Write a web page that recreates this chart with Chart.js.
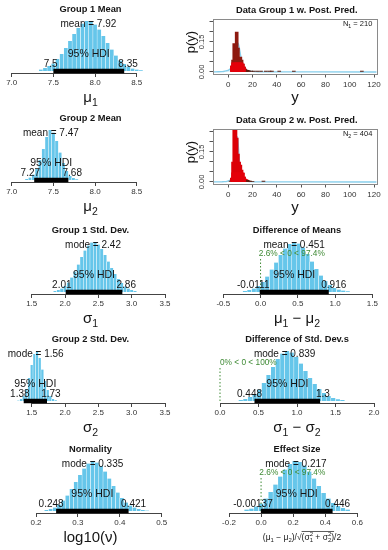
<!DOCTYPE html>
<html><head><meta charset="utf-8">
<script src="https://cdn.jsdelivr.net/npm/chart.js@4/dist/chart.umd.min.js"></script>
<style>
html,body{margin:0;padding:0;background:#fff;}
#wrap{position:relative;width:388px;height:550px;overflow:hidden;background:#fff;}
canvas{position:absolute;}
</style></head><body><div id="wrap"></div>
<script>
// ---------------- DATA ----------------
// Group 1 Mean
const mu1Bins = [7.35,7.40,7.45,7.50,7.55,7.60,7.65,7.70,7.75,7.80,7.85,7.90,7.95,8.00,8.05,8.10,8.15,8.20,8.25,8.30,8.35,8.40,8.45,8.50,8.55];
const mu1Dens = [0.03,0.06,0.10,0.15,0.24,0.34,0.46,0.60,0.74,0.86,0.95,1.00,0.99,0.93,0.83,0.70,0.56,0.43,0.31,0.21,0.14,0.09,0.05,0.03,0.015];
const mu1HDI = [7.5, 8.35];
const mu1Mean = 7.92;
const mu1Ticks = ['7.0','7.5','8.0','8.5'];
// Group 2 Mean
const mu2Bins = [7.18,7.22,7.26,7.30,7.34,7.38,7.42,7.46,7.50,7.54,7.58,7.62,7.66,7.70,7.74,7.78];
const mu2Dens = [0.02,0.05,0.11,0.22,0.40,0.62,0.86,1.00,0.95,0.78,0.55,0.34,0.18,0.08,0.04,0.015];
const mu2HDI = [7.27, 7.68];
const mu2Mean = 7.47;
const mu2Ticks = ['7.0','7.5','8.0','8.5'];
// Group 1 Std. Dev.
const sd1Bins = [1.85,1.90,1.95,2.00,2.05,2.10,2.15,2.20,2.25,2.30,2.35,2.40,2.45,2.50,2.55,2.60,2.65,2.70,2.75,2.80,2.85,2.90,2.95,3.00,3.05];
const sd1Dens = [0.02,0.04,0.07,0.12,0.19,0.29,0.41,0.55,0.70,0.83,0.93,0.99,1.00,0.95,0.86,0.74,0.61,0.48,0.36,0.26,0.18,0.11,0.07,0.04,0.02];
const sd1HDI = [2.01, 2.86];
const sd1Mode = 2.42;
const sd1Ticks = ['1.5','2.0','2.5','3.0','3.5'];
// Group 2 Std. Dev.
const sd2Bins = [1.30,1.34,1.38,1.42,1.46,1.50,1.54,1.58,1.62,1.66,1.70,1.74,1.78,1.82,1.86];
const sd2Dens = [0.01,0.04,0.10,0.24,0.46,0.72,0.94,1.00,0.86,0.63,0.40,0.22,0.10,0.04,0.015];
const sd2HDI = [1.38, 1.73];
const sd2Mode = 1.56;
const sd2Ticks = ['1.5','2.0','2.5','3.0','3.5'];
// Normality log10(nu)
const nuBins = [0.225,0.235,0.245,0.255,0.265,0.275,0.285,0.295,0.305,0.315,0.325,0.335,0.345,0.355,0.365,0.375,0.385,0.395,0.405,0.415,0.425,0.435,0.445,0.455,0.465];
const nuDens = [0.02,0.04,0.07,0.13,0.21,0.31,0.44,0.58,0.72,0.85,0.95,1.00,0.97,0.90,0.79,0.65,0.50,0.37,0.26,0.17,0.11,0.07,0.04,0.02,0.01];
const nuHDI = [0.248, 0.421];
const nuMode = 0.335;
const nuTicks = ['0.2','0.3','0.4','0.5'];
// Difference of Means
const dmBins = [-0.21,-0.15,-0.09,-0.03,0.03,0.09,0.15,0.21,0.27,0.33,0.39,0.45,0.51,0.57,0.63,0.69,0.75,0.81,0.87,0.93,0.99,1.05,1.11,1.17];
const dmDens = [0.02,0.04,0.07,0.12,0.20,0.31,0.45,0.59,0.74,0.87,0.96,1.00,0.97,0.89,0.76,0.61,0.46,0.33,0.22,0.14,0.08,0.05,0.03,0.015];
const dmHDI = [-0.0111, 0.916];
const dmMean = 0.451;
const dmComp = [2.6, 0, 97.4];
const dmTicks = ['-0.5','0.0','0.5','1.0','1.5'];
// Difference of Std. Dev.s
const dsBins = [0.27,0.33,0.39,0.45,0.51,0.57,0.63,0.69,0.75,0.81,0.87,0.93,0.99,1.05,1.11,1.17,1.23,1.29,1.35,1.41,1.47,1.53,1.59];
const dsDens = [0.02,0.04,0.08,0.14,0.23,0.36,0.52,0.68,0.84,0.95,1.00,0.97,0.88,0.75,0.60,0.46,0.34,0.24,0.16,0.10,0.06,0.035,0.02];
const dsHDI = [0.448, 1.3];
const dsMode = 0.839;
const dsComp = [0, 0, 100];
const dsTicks = ['0.0','0.5','1.0','1.5','2.0'];
// Effect Size
const esBins = [-0.09,-0.06,-0.03,0.00,0.03,0.06,0.09,0.12,0.15,0.18,0.21,0.24,0.27,0.30,0.33,0.36,0.39,0.42,0.45,0.48,0.51,0.54];
const esDens = [0.03,0.05,0.09,0.15,0.25,0.38,0.53,0.69,0.83,0.94,1.00,0.98,0.91,0.79,0.65,0.50,0.36,0.25,0.16,0.10,0.06,0.03];
const esHDI = [-0.00137, 0.446];
const esMode = 0.217;
const esComp = [2.6, 0, 97.4];
const esTicks = ['-0.2','0.0','0.2','0.4','0.6'];
// Data Group 1 with posterior predictive
const y1Vals = [3,4,5,6,7,8,9,10,11,12,13,14,15,16,17,19,21,24,27,31,34,36,42,54,110];
const y1Dens = [0.03,0.06,0.142,0.11,0.20,0.12,0.07,0.075,0.06,0.04,0.025,0.015,0.01,0.008,0.006,0.005,0.005,0.005,0.005,0.005,0.005,0.005,0.005,0.005,0.005];
const pp1X = [-12,-8,-5,-3,-1,1,3,5,6,7,8,9,10,11,13,15,18,22,30,45,70,122];
const pp1Y = [0.0006,0.0012,0.0022,0.0036,0.0064,0.0124,0.027,0.065,0.098,0.132,0.146,0.126,0.091,0.060,0.025,0.0116,0.0045,0.0017,0.0005,0.0002,0.0001,0];
const n1 = 210;
// Data Group 2 with posterior predictive
const y2Vals = [2,3,4,5,6,7,8,9,10,11,12,13,14,15,16,17,18,20,29];
const y2Dens = [0.005,0.02,0.10,0.28,0.28,0.22,0.14,0.10,0.085,0.06,0.045,0.025,0.015,0.012,0.008,0.005,0.004,0.003,0.004];
const pp2X = [-12,-8,-5,-3,-1,1,3,4,5,6,7,7.5,8,9,10,11,13,15,18,22,30,50,122];
const pp2Y = [0.0003,0.0005,0.001,0.0017,0.0033,0.0071,0.019,0.034,0.067,0.132,0.212,0.2265,0.209,0.127,0.064,0.033,0.011,0.0046,0.0017,0.0006,0.0002,0.0001,0];
const n2 = 404;
const dataXTicks = ['0','20','40','60','80','100','120'];
const dataYTicks = [0,0.05,0.10,0.15,0.20,0.25];
const dataYLabels = ['0.00','','','0.15','',''];

// ---------------- DRAWING ----------------
const FF = '"Liberation Sans", Arial, Helvetica, sans-serif';
const HIST = '#66c6ea';
const GREEN = '#3f8a35';
const TXT = '#151515';
Chart.defaults.font.family = FF;
const wrap = document.getElementById('wrap');
function mkCanvas(l,t,w,h){const c=document.createElement('canvas');c.width=w;c.height=h;c.style.left=l+'px';c.style.top=t+'px';c.style.width=w+'px';c.style.height=h+'px';wrap.appendChild(c);return c;}
function fontStr(size,bold){return (bold?'bold ':'')+size+'px '+FF;}
function layoutRich(ctx,parts,size,bold){
  const items=[];let w=0,ovS=null,ovE=null;
  for(const part of parts){
    const t=part[0],k=part[1],ov=part[2];const x0=w;
    if(k==='n'){ctx.font=fontStr(size,bold);items.push({t,x:w,dy:0,f:ctx.font});w+=ctx.measureText(t).width;}
    else if(k==='b'||k==='p'){const fs=size*0.7;ctx.font=fontStr(fs,bold);items.push({t,x:w,dy:k==='b'?size*0.25:-size*0.38,f:ctx.font});w+=ctx.measureText(t).width;}
    else if(k==='bp'){const ab=t.split('|');const fs=size*0.7;ctx.font=fontStr(fs,bold);items.push({t:ab[0],x:w,dy:size*0.25,f:ctx.font});items.push({t:ab[1],x:w,dy:-size*0.4,f:ctx.font});w+=Math.max(ctx.measureText(ab[0]).width,ctx.measureText(ab[1]).width);}
    if(ov){if(ovS===null)ovS=x0;ovE=w;}
  }
  return {items,w,ovS,ovE};
}
function drawRich(ctx,parts,x,yMid,size,align,color,bold){
  const L=layoutRich(ctx,parts,size,bold);
  const sx=align==='center'?x-L.w/2:align==='right'?x-L.w:x;
  const base=yMid+size*0.36;
  ctx.fillStyle=color;ctx.textBaseline='alphabetic';ctx.textAlign='left';
  for(const it of L.items){ctx.font=it.f;ctx.fillText(it.t,sx+it.x,base+it.dy);}
  if(L.ovS!==null){ctx.strokeStyle=color;ctx.lineWidth=0.7;ctx.beginPath();const yy=base-size*0.95;ctx.moveTo(sx+L.ovS,yy);ctx.lineTo(sx+L.ovE,yy);ctx.stroke();}
}
function txtW(ctx,s,size){ctx.font=fontStr(size);return ctx.measureText(s).width;}

const panels = [
 {title:'Group 1 Mean',bins:mu1Bins,dens:mu1Dens,hdi:mu1HDI,ct:['mean',mu1Mean],ticks:mu1Ticks,xlab:[['μ','n'],['1','b']],col:0,axisY:72.7,x0:11.7,x1:136.7},
 {title:'Group 2 Mean',bins:mu2Bins,dens:mu2Dens,hdi:mu2HDI,ct:['mean',mu2Mean],ticks:mu2Ticks,xlab:[['μ','n'],['2','b']],col:0,axisY:181.7,x0:11.7,x1:136.7},
 {title:'Group 1 Std. Dev.',bins:sd1Bins,dens:sd1Dens,hdi:sd1HDI,ct:['mode',sd1Mode],ticks:sd1Ticks,xlab:[['σ','n'],['1','b']],col:0,axisY:293.5,x0:31.7,x1:165},
 {title:'Group 2 Std. Dev.',bins:sd2Bins,dens:sd2Dens,hdi:sd2HDI,ct:['mode',sd2Mode],ticks:sd2Ticks,xlab:[['σ','n'],['2','b']],col:0,axisY:403.2,x0:31.7,x1:165},
 {title:'Normality',bins:nuBins,dens:nuDens,hdi:nuHDI,ct:['mode',nuMode],ticks:nuTicks,xlab:[['log10(ν)','n']],col:0,axisY:512.8,x0:36,x1:161.7},
 {title:'Difference of Means',bins:dmBins,dens:dmDens,hdi:dmHDI,ct:['mean',dmMean],ticks:dmTicks,comp:dmComp,xlab:[['μ','n'],['1','b'],[' − μ','n'],['2','b']],col:1,axisY:294,x0:223.3,x1:372.3},
 {title:'Difference of Std. Dev.s',bins:dsBins,dens:dsDens,hdi:dsHDI,ct:['mode',dsMode],ticks:dsTicks,comp:dsComp,xlab:[['σ','n'],['1','b'],[' − σ','n'],['2','b']],col:1,axisY:403,x0:220,x1:374},
 {title:'Effect Size',bins:esBins,dens:esDens,hdi:esHDI,ct:['mode',esMode],ticks:esTicks,comp:esComp,xlab:[['(μ','n'],['1','b'],[' − μ','n'],['2','b'],[')/√','n'],['(σ','n',1],['1|2','bp',1],[' + σ','n',1],['2|2','bp',1],[')','n',1],['/2','n']],xlabSize:8.5,xlabX:302,col:1,axisY:513.3,x0:229,x1:357.3}
];

function histPanel(p){
  const cl=p.col?194:0,W=194,H=108,ct=p.axisY-72;
  const cvs=mkCanvas(cl,ct,W,H);
  const tickVals=p.ticks.map(Number);
  const datasets=[
    {type:'bar',data:p.bins.map((b,i)=>({x:b,y:p.dens[i]})),backgroundColor:HIST,borderColor:'#ffffff',borderWidth:{left:0.5,right:0.5,top:0,bottom:0},barPercentage:1,categoryPercentage:1,clip:false,order:3},
    {type:'line',data:[{x:p.hdi[0],y:0},{x:p.hdi[1],y:0}],borderColor:'#000',borderWidth:4.5,pointRadius:0,clip:false,order:1,borderCapStyle:'butt'}
  ];
  if(p.comp){datasets.push({type:'line',data:[{x:p.comp[1],y:0},{x:p.comp[1],y:0.67}],borderColor:GREEN,borderWidth:1,borderDash:[1.5,2],pointRadius:0,clip:false,order:2});}
  const plugin={id:'histText',afterDatasetsDraw(chart){
    const ctx=chart.ctx,xs=chart.scales.x,ay=72,cx=(p.col?297:90.5)-cl;
    ctx.save();
    drawRich(ctx,[[p.title,'n']],cx,ay-64.5,9.3,'center',TXT,true);
    drawRich(ctx,[[p.ct[0]+' = '+p.ct[1],'n']],xs.getPixelForValue(p.ct[1]),ay-50,10,'center',TXT);
    if(p.comp){const s=p.comp[0]+'% < '+p.comp[1]+' < '+p.comp[2]+'%';const w=txtW(ctx,s,8.3);
      drawRich(ctx,[[s,'n']],xs.getPixelForValue(p.comp[1])-w*p.comp[0]/100,ay-40.5,8.3,'left',GREEN);}
    drawRich(ctx,[['95% HDI','n']],xs.getPixelForValue((p.hdi[0]+p.hdi[1])/2),ay-19.5,10.5,'center',TXT);
    const lo=String(p.hdi[0]),hi=String(p.hdi[1]);
    drawRich(ctx,[[lo,'n']],xs.getPixelForValue(p.hdi[0])-0.7*txtW(ctx,lo,10),ay-9.5,10,'left',TXT);
    drawRich(ctx,[[hi,'n']],xs.getPixelForValue(p.hdi[1])-0.3*txtW(ctx,hi,10),ay-9.5,10,'left',TXT);
    drawRich(ctx,p.xlab,(p.xlabX||(p.col?297:90.5))-cl,ay+23.5,p.xlabSize||15,'center',TXT);
    ctx.restore();
  }};
  new Chart(cvs,{type:'bar',data:{datasets},
    options:{responsive:false,animation:false,devicePixelRatio:1,
      layout:{padding:{left:p.x0-cl,right:cl+W-p.x1,top:20,bottom:0}},
      plugins:{legend:{display:false},tooltip:{enabled:false}},
      scales:{
        x:{type:'linear',min:tickVals[0],max:tickVals[tickVals.length-1],offset:false,
          afterBuildTicks:s=>{s.ticks=tickVals.map(v=>({value:v}));},
          afterFit:s=>{s.height=H-72;},
          ticks:{callback:(v,i)=>p.ticks[i],font:{family:FF,size:8},color:'#333',padding:1,maxRotation:0,minRotation:0,autoSkip:false},
          grid:{display:true,drawOnChartArea:false,drawTicks:true,tickLength:4,color:'#444',lineWidth:1,offset:false},
          border:{display:true,color:'#444',width:1}},
        y:{display:false,min:-0.04,max:1}
      }},
    plugins:[plugin]});
}
panels.forEach(histPanel);

const dataPanels=[
 {title:'Data Group 1 w. Post. Pred.',top:0,vals:y1Vals,dens:y1Dens,ppX:pp1X,ppY:pp1Y,n:n1,sub:'1',spike:'#8e1a10',base:'#e4000a'},
 {title:'Data Group 2 w. Post. Pred.',top:110,vals:y2Vals,dens:y2Dens,ppX:pp2X,ppY:pp2Y,n:n2,sub:'2',spike:'#dc0008',base:'#e4000a'}
];
function dataPanel(d){
  const cl=178,W=210,H=108,ct=d.top;
  const cvs=mkCanvas(cl,ct,W,H);
  const xt=dataXTicks.map(Number);
  const dotColor='#5a1a0c';
  const datasets=[
    {type:'line',data:d.ppX.map((x,i)=>({x,y:d.ppY[i]})),borderColor:'#87ceeb',borderWidth:1.3,fill:'origin',backgroundColor:'rgba(135,206,235,0.28)',pointRadius:0,cubicInterpolationMode:'monotone',order:4},
    {type:'bar',data:d.vals.map((x,i)=>({x,y:d.dens[i]})),backgroundColor:c=>(c.raw&&c.raw.y<0.01)?dotColor:d.spike,barThickness:3,grouped:false,order:2},
    {type:'bar',data:d.vals.map((x,i)=>({x,y:[0,Math.min(d.dens[i],0.046)]})).filter((o,i)=>d.dens[i]>0.02),backgroundColor:d.base,barThickness:3,grouped:false,order:1}
  ];
  const plugin={id:'dataText',afterDatasetsDraw(chart){
    const ctx=chart.ctx,a=chart.chartArea,ys=chart.scales.y;
    ctx.save();
    ctx.strokeStyle='#8a8a8a';ctx.lineWidth=1;ctx.strokeRect(Math.round(a.left)+0.5,Math.round(a.top)+0.5,Math.round(a.right-a.left),Math.round(a.bottom-a.top));
    drawRich(ctx,[[d.title,'n']],296.7-cl,9.3,9.3,'center',TXT,true);
    drawRich(ctx,[['N','n'],[d.sub,'b'],[' = '+d.n,'n']],372.3-cl,23.3,7.5,'right',TXT);
    dataYTicks.forEach((v,i)=>{if(!dataYLabels[i])return;ctx.save();ctx.translate(201-cl,ys.getPixelForValue(v));ctx.rotate(-Math.PI/2);drawRich(ctx,[[dataYLabels[i],'n']],0,0,7.5,'center','#333');ctx.restore();});
    ctx.save();ctx.translate(190-cl,42);ctx.rotate(-Math.PI/2);drawRich(ctx,[['p(y)','n']],0,0,13,'center',TXT);ctx.restore();
    drawRich(ctx,[['y','n']],295-cl,96.7,15,'center',TXT);
    ctx.restore();
  }};
  new Chart(cvs,{type:'bar',data:{datasets},
    options:{responsive:false,animation:false,devicePixelRatio:1,
      layout:{padding:{left:31.5,right:10.7,top:19,bottom:0}},
      plugins:{legend:{display:false},tooltip:{enabled:false}},
      scales:{
        x:{type:'linear',min:-12.5,max:122.7,offset:false,
          afterBuildTicks:s=>{s.ticks=xt.map(v=>({value:v}));},
          afterFit:s=>{s.height=H-74;},
          ticks:{callback:(v,i)=>dataXTicks[i],font:{family:FF,size:8},color:'#333',padding:2,maxRotation:0,minRotation:0,autoSkip:false},
          grid:{display:true,drawOnChartArea:false,drawTicks:true,tickLength:3.5,color:'#555',offset:false},
          border:{display:false}},
        y:{type:'linear',min:-0.0101,max:0.265,
          afterBuildTicks:s=>{s.ticks=dataYTicks.map(v=>({value:v}));},
          afterFit:s=>{s.width=3.5;},
          ticks:{display:false},
          grid:{display:true,drawOnChartArea:false,drawTicks:true,tickLength:3.5,color:'#555'},
          border:{display:false}}
      }},
    plugins:[plugin]});
}
dataPanels.forEach(dataPanel);
</script></body></html>
